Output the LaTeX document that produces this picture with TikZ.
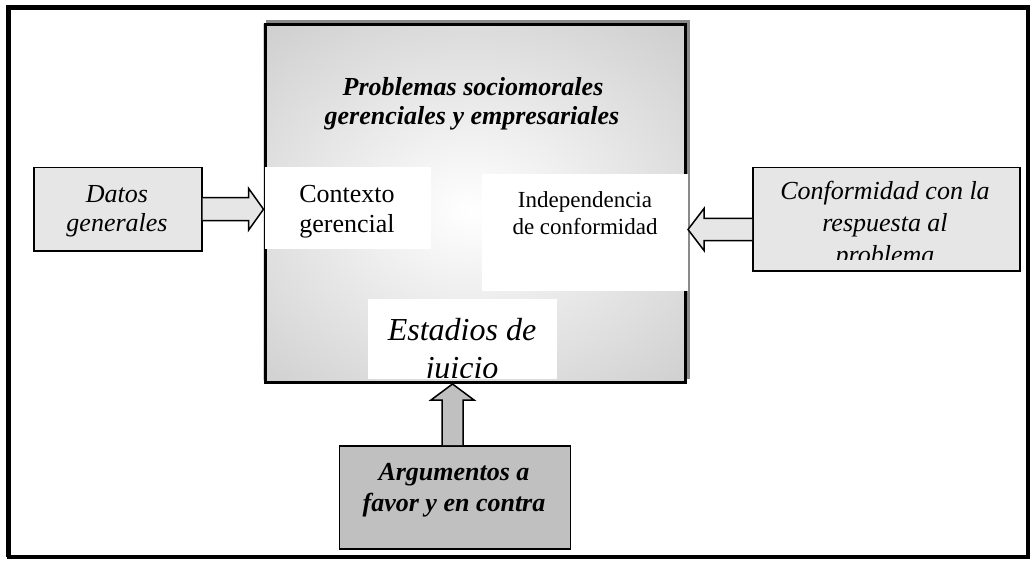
\documentclass[tikz,border=0pt]{standalone}
\usepackage{fontspec}
\setmainfont{Liberation Serif}
\usetikzlibrary{calc}
\definecolor{boxgray}{HTML}{C0C0C0}
\definecolor{lightbox}{HTML}{E6E6E6}
\definecolor{shadowgray}{HTML}{8A8A8A}
\begin{document}
\begin{tikzpicture}[x=1pt,y=-1pt,
  lbl/.style={inner sep=0pt, anchor=base},
  fA/.style={font=\fontsize{26}{31}\selectfont},
  fB/.style={font=\fontsize{23}{27}\selectfont},
  fC/.style={font=\fontsize{32}{38}\selectfont},
  smallbox/.style={draw, line width=1.5pt, anchor=north west, inner sep=0pt},
  whitebox/.style={fill=white, anchor=north west, inner sep=0pt},
  barrow/.style={draw, line width=1.5pt, line join=miter}]
\useasboundingbox (0,0) rectangle (1032,561);
% outer frame
\draw[line width=4pt] (8.5,7.5) rectangle (1027.5,556.5);
\draw[line width=5.5pt] (8.5,557) -- (8.5,7.5) -- (1027.5,7.5);
% shadow of main box
\fill[shadowgray] (266,20.5) rectangle (689.5,379);
% main box shading
\begin{scope}
  \clip (263.5,23.5) rectangle (683.5,380.5);
  \fill[boxgray] (263.5,23.5) rectangle (683.5,380.5);
  \shade[inner color=white, outer color=boxgray] (470,210) ellipse [x radius=410, y radius=320];
\end{scope}
\node[draw, line width=3pt, anchor=north west, inner sep=0pt, minimum width=420pt, minimum height=357pt] (main) at (263.5,23.5) {};
% title
\node[lbl, fA] (t1) at (473,96) {\textbf{\textit{Problemas sociomorales}}};
\node[lbl, fA] (t2) at (472,125) {\textbf{\textit{gerenciales y empresariales}}};
% white inner boxes
\node[whitebox, minimum width=166pt, minimum height=82pt] (contexto) at (265,167) {};
\node[whitebox, minimum width=206pt, minimum height=117pt] (indep) at (482,174) {};
\node[whitebox, minimum width=189pt, minimum height=80pt] (estadios) at (368,299) {};
\node[lbl, fA] (c1) at (347,203) {Contexto};
\node[lbl, fA] (c2) at (347,233) {gerencial};
\node[lbl, fB] (i1) at (585,208) {Independencia};
\node[lbl, fB] (i2) at (585,234) {de conformidad};
\begin{scope}
  \clip (368,299) rectangle (557,377);
  \node[lbl, fC] (e1) at (462,340) {\textit{Estadios de}};
  \node[lbl, fC] (e2) at (462,378) {\textit{juicio}};
\end{scope}
% side boxes
\node[smallbox, fill=lightbox, minimum width=168pt, minimum height=83pt] (datos) at (33,167) {};
\node[lbl, fA] (d1) at (117,203) {\textit{Datos}};
\node[lbl, fA] (d2) at (117,232) {\textit{generales}};
\node[smallbox, fill=lightbox, minimum width=267pt, minimum height=103pt] (conf) at (752,167) {};
\node[lbl, fA] (f1) at (885,200) {\textit{Conformidad con la}};
\node[lbl, fA] (f2) at (885,231) {\textit{respuesta al}};
\begin{scope}
  \clip (752,167) rectangle (1019,259);
  \node[lbl, fA] (f3) at (885,263) {\textit{problema}};
\end{scope}
\node[smallbox, fill=boxgray, minimum width=231pt, minimum height=103pt] (arg) at (338.5,445) {};
\node[lbl, fA] (a1) at (454,480) {\textbf{\textit{Argumentos a}}};
\node[lbl, fA] (a2) at (454,511) {\textbf{\textit{favor y en contra}}};
% block arrows
\coordinate (tipR) at (main.west |- datos.east);
\draw[barrow, fill=lightbox] ($(datos.east)+(0,-11.5)$) -- ($(tipR)+(-15,-11.5)$) -- ($(tipR)+(-15,-21)$) -- (tipR) -- ($(tipR)+(-15,21)$) -- ($(tipR)+(-15,11.5)$) -- ($(datos.east)+(0,11.5)$);
\coordinate (tipL) at (688,229.5);
\coordinate (tailL) at (conf.west |- tipL);
\draw[barrow, fill=lightbox] ($(tailL)+(0,-11)$) -- ($(tipL)+(16,-11)$) -- ($(tipL)+(16,-21)$) -- (tipL) -- ($(tipL)+(16,21)$) -- ($(tipL)+(16,11)$) -- ($(tailL)+(0,11)$);
\coordinate (tipU) at (452.5,384);
\coordinate (tailU) at (tipU |- arg.north);
\draw[barrow, fill=boxgray] ($(tailU)+(-10.5,0)$) -- ($(tipU)+(-10.5,16)$) -- ($(tipU)+(-21.5,16)$) -- (tipU) -- ($(tipU)+(21.5,16)$) -- ($(tipU)+(10.5,16)$) -- ($(tailU)+(10.5,0)$);
\end{tikzpicture}
\end{document}
